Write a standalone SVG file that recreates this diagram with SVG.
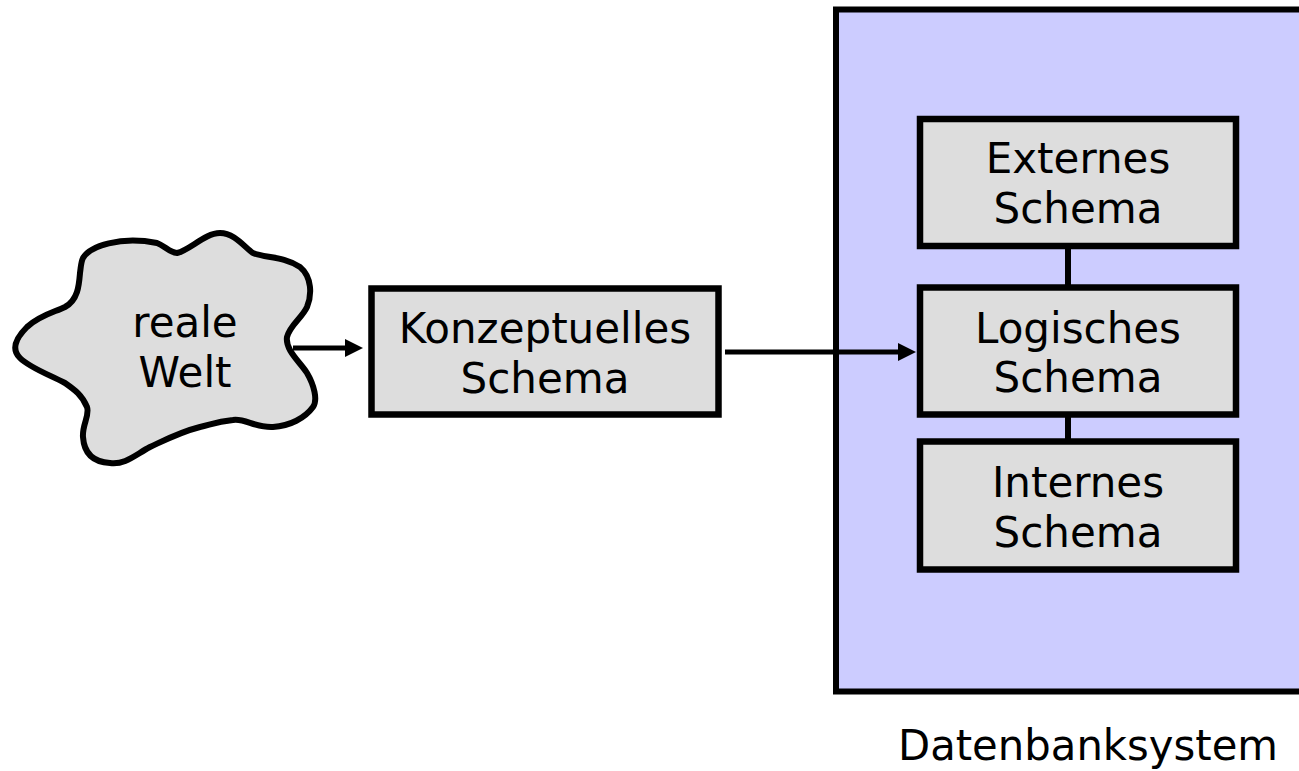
<svg xmlns="http://www.w3.org/2000/svg" width="1299" height="771" viewBox="0 0 1299 771">
<style>
.box{fill:#dddddd;stroke:#000;stroke-width:6.5}
.lbl{font-family:"DejaVu Sans","Liberation Sans",sans-serif;font-size:42px;fill:#000;text-anchor:middle}
.conn{stroke:#000;stroke-width:5;fill:none}
</style>
<defs>
<marker id="ah" markerUnits="userSpaceOnUse" markerWidth="19" markerHeight="19" refX="0" refY="9" orient="auto">
<path d="M0,0 L18,9 L0,18 z" fill="#000"/>
</marker>
</defs>
<rect width="1299" height="771" fill="#fff"/>
<g id="datenbanksystem">
<rect x="836" y="9.5" width="480" height="682" fill="#ccccff" stroke="#000" stroke-width="6"/>
<text class="lbl" x="898" y="760" style="text-anchor:start" textLength="380" lengthAdjust="spacingAndGlyphs">Datenbanksystem</text>
</g>
<g id="connectors">
<line class="conn" x1="293" y1="348" x2="345" y2="348" marker-end="url(#ah)"/>
<line class="conn" x1="725" y1="352" x2="898" y2="352" marker-end="url(#ah)"/>
<line class="conn" x1="1068" y1="246" x2="1068" y2="288" style="stroke-width:6"/>
<line class="conn" x1="1068" y1="414" x2="1068" y2="442" style="stroke-width:6"/>
</g>
<g id="reale-welt">
<path d="M83,258 C90,246 120,236 157,243 C165,246 170,253 177,253 C190,250 205,233 220,233 C235,233 245,248 253,253 C265,258 283,256 300,267 C312,277 312,295 307,307 C302,318 290,325 287,337 C285,350 300,362 307,373 C314,385 318,400 313,407 C305,418 290,426 273,427 C255,428 245,418 233,420 C215,422 210,425 200,427 C180,432 165,440 150,447 C135,455 125,465 110,463 C92,462 84,452 83,437 C82,425 90,415 87,407 C82,395 75,390 65,383 C50,375 30,368 20,358 C12,350 14,340 27,327 C40,315 55,312 65,307 C78,300 79,285 80,273 C81,266 81,262 83,258 Z" fill="#dddddd" stroke="#000" stroke-width="6" stroke-linejoin="round"/>
<text class="lbl" x="185" y="337">reale</text>
<text class="lbl" x="185" y="387">Welt</text>
</g>
<g id="konzeptuelles-schema">
<rect class="box" x="371.5" y="288.5" width="347" height="126"/>
<text class="lbl" x="545" y="343">Konzeptuelles</text>
<text class="lbl" x="545" y="393">Schema</text>
</g>
<g id="externes-schema">
<rect class="box" x="920" y="119" width="316" height="127"/>
<text class="lbl" x="1078" y="173">Externes</text>
<text class="lbl" x="1078" y="223">Schema</text>
</g>
<g id="logisches-schema">
<rect class="box" x="920" y="287.5" width="316" height="127"/>
<text class="lbl" x="1078" y="343">Logisches</text>
<text class="lbl" x="1078" y="392">Schema</text>
</g>
<g id="internes-schema">
<rect class="box" x="920" y="441.5" width="316" height="128"/>
<text class="lbl" x="1078" y="497">Internes</text>
<text class="lbl" x="1078" y="547">Schema</text>
</g>
</svg>
